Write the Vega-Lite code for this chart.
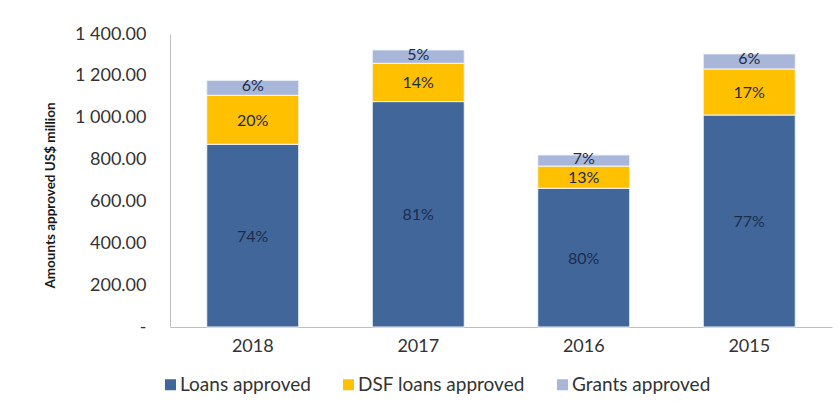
{
  "$schema": "https://vega.github.io/schema/vega-lite/v6.json",
  "width": 662,
  "height": 293,
  "autosize": {"type": "none"},
  "padding": {"left": 170, "top": 34, "right": 8, "bottom": 74},
  "background": "white",
  "config": {
    "view": {"stroke": null},
    "font": "Lato",
    "axis": {"labelFont": "Lato", "titleFont": "Lato"},
    "legend": {"labelFont": "Lato"}
  },
  "data": {
    "values": [
      {"year": "2018", "series": "Loans approved", "ord": 1, "value": 873, "pct": "74%"},
      {"year": "2018", "series": "DSF loans approved", "ord": 2, "value": 234, "pct": "20%"},
      {"year": "2018", "series": "Grants approved", "ord": 3, "value": 72, "pct": "6%"},
      {"year": "2017", "series": "Loans approved", "ord": 1, "value": 1077, "pct": "81%"},
      {"year": "2017", "series": "DSF loans approved", "ord": 2, "value": 183, "pct": "14%"},
      {"year": "2017", "series": "Grants approved", "ord": 3, "value": 64, "pct": "5%"},
      {"year": "2016", "series": "Loans approved", "ord": 1, "value": 663, "pct": "80%"},
      {"year": "2016", "series": "DSF loans approved", "ord": 2, "value": 106, "pct": "13%"},
      {"year": "2016", "series": "Grants approved", "ord": 3, "value": 53, "pct": "7%"},
      {"year": "2015", "series": "Loans approved", "ord": 1, "value": 1013, "pct": "77%"},
      {"year": "2015", "series": "DSF loans approved", "ord": 2, "value": 220, "pct": "17%"},
      {"year": "2015", "series": "Grants approved", "ord": 3, "value": 72, "pct": "6%"}
    ]
  },
  "transform": [
    {"stack": "value", "groupby": ["year"], "sort": [{"field": "ord", "order": "ascending"}], "as": ["v0", "v1"]},
    {"calculate": "(datum.v0 + datum.v1) / 2", "as": "mid"}
  ],
  "encoding": {
    "x": {
      "field": "year", "type": "nominal", "sort": null,
      "scale": {"paddingInner": 0.444, "paddingOuter": 0.222},
      "axis": {
        "title": null, "labelAngle": 0, "ticks": false, "labelPadding": 10,
        "labelFontSize": 18, "labelColor": "#333333",
        "domainColor": "#BFBFBF", "domainWidth": 1
      }
    }
  },
  "layer": [
    {
      "mark": {"type": "bar", "stroke": "#F2F5FA", "strokeWidth": 1},
      "encoding": {
        "y": {
          "field": "v1", "type": "quantitative",
          "scale": {"domain": [0, 1400], "nice": false},
          "axis": {
            "title": "Amounts approved US$ million",
            "titleFontSize": 13.5, "titleFontWeight": "bold", "titleColor": "#1a1a1a",
            "titleX": -120, "titleY": 161, "titleAngle": -90, "titleAlign": "center", "titleBaseline": "middle",
            "values": [0, 200, 400, 600, 800, 1000, 1200, 1400],
            "labelExpr": "datum.value == 0 ? '-' : replace(format(datum.value, ',.2f'), ',', ' ')",
            "labelFontSize": 18, "labelColor": "#333333", "labelPadding": 24,
            "ticks": false, "grid": false,
            "domainColor": "#BFBFBF", "domainWidth": 1
          }
        },
        "y2": {"field": "v0"},
        "color": {
          "field": "series", "type": "nominal",
          "scale": {
            "domain": ["Loans approved", "DSF loans approved", "Grants approved"],
            "range": ["#41679A", "#FFC000", "#A8B7D9"]
          },
          "legend": {
            "title": null, "orient": "none", "direction": "horizontal",
            "legendX": -9, "legendY": 341,
            "symbolType": "square", "symbolSize": 121, "symbolStrokeWidth": 0,
            "labelFontSize": 19, "labelColor": "#333333", "labelLimit": 400,
            "columnPadding": 28, "labelOffset": 0
          }
        }
      }
    },
    {
      "transform": [{"filter": "datum.series != 'Grants approved'"}],
      "mark": {"type": "text", "fontSize": 16, "color": "#1C2B4C", "baseline": "middle", "dy": 1},
      "encoding": {
        "y": {"field": "mid", "type": "quantitative"},
        "text": {"field": "pct", "type": "nominal"}
      }
    },
    {
      "transform": [{"filter": "datum.series == 'Grants approved'"}],
      "mark": {"type": "text", "fontSize": 16, "color": "#1C2B4C", "baseline": "middle", "dy": -2},
      "encoding": {
        "y": {"field": "mid", "type": "quantitative"},
        "text": {"field": "pct", "type": "nominal"}
      }
    }
  ]
}
